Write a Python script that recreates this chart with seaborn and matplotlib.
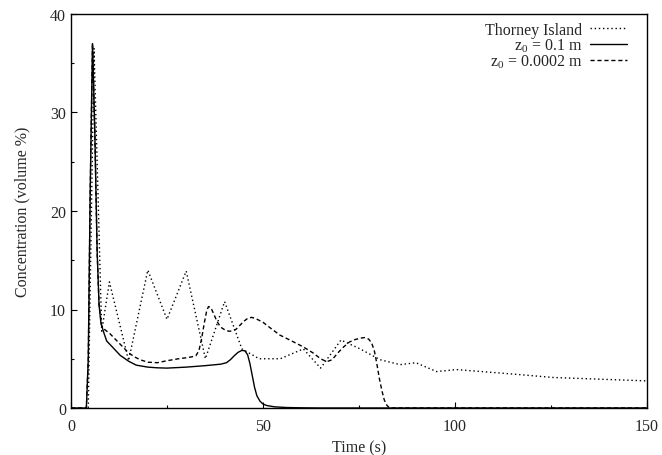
import numpy as np
import pandas as pd
import matplotlib
matplotlib.use("Agg")
import matplotlib.pyplot as plt
import seaborn as sns

# Thorney Island trial (dotted)
ti_t = [4.5, 6, 8, 10, 15, 20, 25, 30, 35, 40, 44.5, 49, 54.5, 60.5, 65, 70.3, 75.3, 80.5,
        85.7, 89.8, 95.2, 100.4, 115, 125.5, 150]
ti_c = [0, 36.5, 7.8, 12.8, 4.8, 14.0, 9.0, 13.9, 5.0, 10.8, 6.0, 5.0, 5.0, 6.0, 4.05, 6.9, 6.0, 4.9,
        4.4, 4.6, 3.7, 3.9, 3.45, 3.1, 2.75]

# z0 = 0.1 m (solid)
s_t = [0, 4.0, 4.5, 5.0, 5.6, 6.2, 6.8, 7.3, 7.8, 8.5, 9.3, 11, 12.8, 15, 17, 20, 22.5, 25, 30, 35,
       39, 40.5, 41.5, 42.5, 43.5, 44.5, 45.3, 46, 46.6, 47.2, 47.8, 48.4, 49.2, 50, 51, 53, 56, 60,
       65, 150]
s_c = [0, 0, 5, 22, 37, 28, 16, 10.5, 8.6, 7.7, 6.8, 6.1, 5.35, 4.75, 4.35, 4.15, 4.08, 4.05, 4.15,
       4.3, 4.45, 4.6, 4.9, 5.3, 5.65, 5.85, 5.8, 5.4, 4.5, 3.3, 2.1, 1.25, 0.7, 0.4, 0.25, 0.12,
       0.05, 0.02, 0, 0]

# z0 = 0.0002 m (dashed)
d_t = [0, 4.0, 4.5, 5.0, 5.6, 6.2, 6.8, 7.3, 8, 8.8, 10, 11, 12, 13, 14, 15, 16.5, 18, 20, 22.5, 25,
       28, 30, 31.5, 32.5, 33.3, 34, 34.7, 35.3, 35.8, 36.4, 37, 38, 39, 40, 41, 42, 43, 44, 45,
       46, 47, 48, 50, 52, 54.4, 57, 60.5, 63, 65, 66.6, 68, 69.5, 71, 72.5, 74, 75.5, 76.5, 77.5,
       78.3, 79, 79.6, 80.3, 81, 81.6, 82.3, 83, 150]
d_c = [0, 0, 5, 22, 37, 28, 16, 10.5, 8.3, 7.95, 7.6, 7.2, 6.8, 6.4, 6.0, 5.6, 5.2, 4.9, 4.65, 4.6,
       4.8, 5.0, 5.1, 5.2, 5.3, 5.8, 7.0, 8.6, 9.8, 10.3, 10.2, 9.7, 8.8, 8.2, 7.95, 7.8, 7.8, 8.0,
       8.4, 8.8, 9.1, 9.2, 9.1, 8.7, 8.1, 7.4, 6.9, 6.2, 5.6, 5.0, 4.7, 4.9, 5.6, 6.2, 6.7, 6.95,
       7.1, 7.15, 7.0, 6.6, 5.8, 4.6, 3.0, 1.7, 0.8, 0.25, 0, 0]

labels = ["Thorney Island", "z$_0$ = 0.1 m", "z$_0$ = 0.0002 m"]

sns.set_style("ticks")
plt.rcParams["font.family"] = ["Liberation Serif", "DejaVu Serif"]
plt.rcParams["mathtext.fontset"] = "custom"
plt.rcParams["mathtext.rm"] = "Liberation Serif"
plt.rcParams["mathtext.it"] = "Liberation Serif:italic"

fig = plt.figure(figsize=(6.62, 4.56), dpi=100)
ax = fig.add_axes([71 / 662, 1 - 409 / 456, 576 / 662, 394 / 456])

df_ti = pd.DataFrame({"t": ti_t, "c": ti_c})
df_s = pd.DataFrame({"t": s_t, "c": s_c})
df_d = pd.DataFrame({"t": d_t, "c": d_c})

sns.lineplot(data=df_ti, x="t", y="c", ax=ax, color="black", lw=1.0,
             linestyle=(0, (1, 2)), label=labels[0], sort=False)
sns.lineplot(data=df_s, x="t", y="c", ax=ax, color="black", lw=1.0,
             linestyle="-", label=labels[1], sort=False)
sns.lineplot(data=df_d, x="t", y="c", ax=ax, color="black", lw=1.0,
             linestyle=(0, (3, 2)), label=labels[2], sort=False)

ax.set_xlim(0, 150)
ax.set_ylim(0, 40)
ax.set_xticks([0, 50, 100, 150])
ax.set_yticks([0, 10, 20, 30, 40])
ax.set_xticks([25, 75, 125], minor=True)
ax.set_yticks([5, 15, 25, 35], minor=True)
ax.tick_params(which="both", direction="in", labelsize=11.5, color="black")
ax.tick_params(which="major", length=4, width=0.8)
ax.tick_params(which="minor", length=2.5, width=0.8)
ax.tick_params(axis="x", pad=7)
for sp in ax.spines.values():
    sp.set_visible(True)
    sp.set_linewidth(1.0)
    sp.set_color("black")

ax.set_xlabel("Time (s)", fontsize=11.5, labelpad=4)
ax.set_ylabel("Concentration (volume %)", fontsize=11.5, labelpad=14)

leg = ax.legend(loc="upper right", bbox_to_anchor=(1 - 12 / 576, 1.0), frameon=False,
                markerfirst=False, fontsize=11.5, handlelength=2.3, borderaxespad=0.1,
                labelspacing=-0.08, handletextpad=0.5)
for t in leg.get_texts():
    t.set_ha("right")
leg._legend_box.align = "right"

fig.savefig("out.png", dpi=100)
